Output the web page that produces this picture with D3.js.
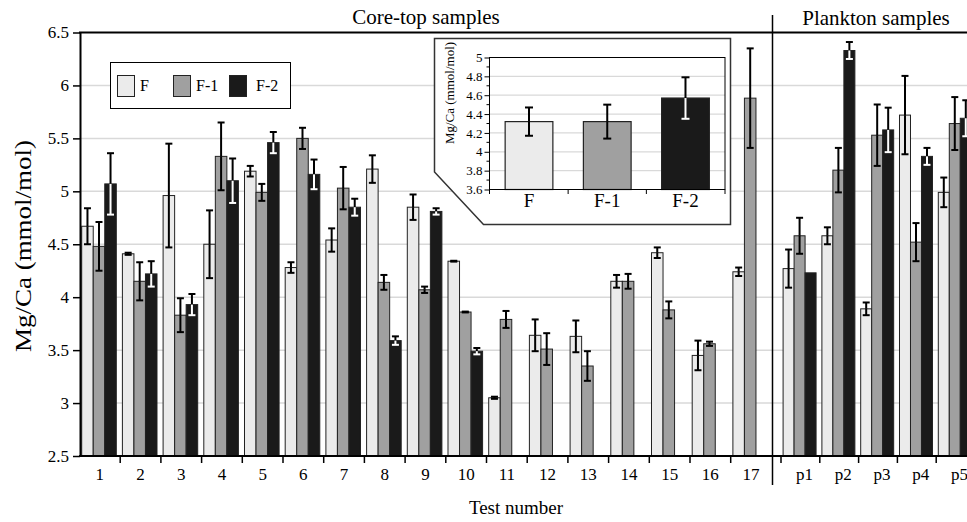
<!DOCTYPE html>
<html>
<head>
<meta charset="utf-8">
<script src="https://cdn.jsdelivr.net/npm/d3@7"></script>
<style>
  body { margin: 0; background: #fff; }
  svg text { font-family: "Liberation Serif", "Times New Roman", serif; fill: #000; }
</style>
</head>
<body>
<div id="chart"></div>
<script>
// ---- data ----
var series = ["F", "F-1", "F-2"];
var coreCats = ["1", "2", "3", "4", "5", "6", "7", "8", "9", "10", "11", "12", "13", "14", "15", "16", "17"];
var plankCats = ["p1", "p2", "p3", "p4", "p5"];

var coreF = [4.67, 4.41, 4.96, 4.50, 5.19, 4.28, 4.54, 5.21, 4.85, 4.34, 3.05, 3.64, 3.63, 4.15, 4.42, 3.45, 4.24];
var coreFErr = [0.17, 0.01, 0.49, 0.32, 0.05, 0.05, 0.11, 0.13, 0.12, 0.004, 0.01, 0.15, 0.15, 0.06, 0.05, 0.14, 0.04];
var coreF1 = [4.48, 4.15, 3.83, 5.33, 4.99, 5.50, 5.03, 4.14, 4.07, 3.86, 3.79, 3.51, 3.35, 4.15, 3.88, 3.56, 5.88];
var coreF1Err = [0.23, 0.18, 0.16, 0.32, 0.08, 0.10, 0.20, 0.07, 0.03, 0.004, 0.08, 0.15, 0.14, 0.07, 0.08, 0.02, 0.47];
var coreF2 = [5.07, 4.22, 3.93, 5.10, 5.46, 5.16, 4.85, 3.59, 4.81, 3.49, null, null, null, null, null, null, null];
var coreF2Err = [0.29, 0.12, 0.10, 0.21, 0.10, 0.14, 0.08, 0.04, 0.03, 0.03, null, null, null, null, null, null, null];

var plankF = [4.27, 4.58, 3.89, 5.72, 4.99];
var plankFErr = [0.18, 0.08, 0.06, 0.37, 0.14];
var plankF1 = [4.58, 5.20, 5.53, 4.52, 5.64];
var plankF1Err = [0.17, 0.21, 0.29, 0.18, 0.25];
var plankF2 = [4.23, 6.33, 5.58, 5.33, 5.69];
var plankF2Err = [null, 0.08, 0.21, 0.08, 0.17];

// inset: mean of all tests
var meanVals = [4.32, 4.32, 4.57];
var meanErr = [0.15, 0.18, 0.22];

var yTicks = [2.5, 3, 3.5, 4, 4.5, 5, 5.5, 6, 6.5];
var insetTicks = [3.6, 3.8, 4, 4.2, 4.4, 4.6, 4.8, 5];

// ---- layout ----
var svgWidth = 967;
var svgHeight = 522;
var colors = { "F": "#ebebeb", "F-1": "#a0a0a0", "F-2": "#1a1a1a" };
var gridColor = "#d9d9d9";
var capHalf = 3.5;

var svg = d3.select("#chart")
    .append("svg")
    .attr("width", svgWidth)
    .attr("height", svgHeight);

var yScale = d3.scaleLinear().domain([2.5, 6.5]).range([456, 32.5]);
var xCore = d3.scaleBand().domain(coreCats).range([79.5, 771.4]);
var xPlank = d3.scaleBand().domain(plankCats).range([781, 975]);

// build a flat table of bars from the named arrays
function makeRows(cats, vals, errs) {
    var rows = [];
    cats.forEach(function(c, i) {
        series.forEach(function(s, j) {
            if (vals[j][i] != null) {
                rows.push({ cat: c, series: s, value: vals[j][i], err: errs[j][i] });
            }
        });
    });
    return rows;
}
var coreRows = makeRows(coreCats, [coreF, coreF1, coreF2], [coreFErr, coreF1Err, coreF2Err]);
var plankRows = makeRows(plankCats, [plankF, plankF1, plankF2], [plankFErr, plankF1Err, plankF2Err]);

// gridlines
svg.append("g").selectAll("line")
    .data(yTicks.filter(d => d > 2.5 && d < 6.5))
    .enter().append("line")
    .attr("x1", 80).attr("x2", svgWidth)
    .attr("y1", d => yScale(d)).attr("y2", d => yScale(d))
    .attr("stroke", gridColor).attr("stroke-width", 1.5);

// draws grouped bars + error bars for one block of categories
function drawBlock(rows, xBand) {
    var bw = xBand.bandwidth();
    var xSub = d3.scaleBand().domain(series).range([bw * 0.054, bw * 0.054 + bw * 0.85]);
    var g = svg.append("g");

    g.selectAll("rect")
        .data(rows)
        .enter().append("rect")
        .attr("x", d => xBand(d.cat) + xSub(d.series))
        .attr("y", d => yScale(d.value))
        .attr("width", xSub.bandwidth())
        .attr("height", d => yScale(2.5) - yScale(d.value))
        .attr("fill", d => colors[d.series])
        .attr("stroke", "#222")
        .attr("stroke-width", 1);

    var eg = g.selectAll(".err")
        .data(rows.filter(d => d.err != null))
        .enter().append("g")
        .attr("class", "err")
        .attr("transform", d => `translate(${xBand(d.cat) + xSub(d.series) + xSub.bandwidth() / 2},0)`);

    // upper half is always black, lower half white when inside a dark bar
    eg.append("line")
        .attr("x1", 0).attr("x2", 0)
        .attr("y1", d => yScale(d.value)).attr("y2", d => yScale(d.value + d.err))
        .attr("stroke", "#000").attr("stroke-width", 2);
    eg.append("line")
        .attr("x1", -capHalf).attr("x2", capHalf)
        .attr("y1", d => yScale(d.value + d.err)).attr("y2", d => yScale(d.value + d.err))
        .attr("stroke", "#000").attr("stroke-width", 2);
    eg.append("line")
        .attr("x1", 0).attr("x2", 0)
        .attr("y1", d => yScale(d.value)).attr("y2", d => yScale(d.value - d.err))
        .attr("stroke", d => d.series === "F-2" ? "#fff" : "#000").attr("stroke-width", 2);
    eg.append("line")
        .attr("x1", -capHalf).attr("x2", capHalf)
        .attr("y1", d => yScale(d.value - d.err)).attr("y2", d => yScale(d.value - d.err))
        .attr("stroke", d => d.series === "F-2" ? "#fff" : "#000").attr("stroke-width", 2);
}
drawBlock(coreRows, xCore);
drawBlock(plankRows, xPlank);

// left axis
var leftAxis = d3.axisLeft(yScale).tickValues(yTicks).tickFormat(d => d).tickSize(7).tickSizeOuter(0);
var yAxisG = svg.append("g")
    .attr("transform", "translate(80,0)")
    .call(leftAxis);
yAxisG.select(".domain").attr("stroke-width", 2);
yAxisG.selectAll(".tick line").attr("stroke-width", 1.5);
yAxisG.selectAll(".tick text")
    .attr("x", -11)
    .style("font-size", "17px")
    .style("font-family", "'Liberation Serif', 'Times New Roman', serif");

// bottom axis line + tick marks between categories
svg.append("line")
    .attr("x1", 79).attr("x2", svgWidth)
    .attr("y1", yScale(2.5)).attr("y2", yScale(2.5))
    .attr("stroke", "#000").attr("stroke-width", 2);

var tickXs = coreCats.slice(1).map(c => xCore(c)).concat(plankCats.map(c => xPlank(c)));
svg.append("g").selectAll("line")
    .data(tickXs)
    .enter().append("line")
    .attr("x1", d => d).attr("x2", d => d)
    .attr("y1", yScale(2.5)).attr("y2", yScale(2.5) + 7)
    .attr("stroke", "#000").attr("stroke-width", 1.5);

svg.append("g").selectAll("text")
    .data(coreCats)
    .enter().append("text")
    .attr("x", d => xCore(d) + xCore.bandwidth() / 2)
    .attr("y", 480)
    .attr("text-anchor", "middle")
    .style("font-size", "17px")
    .text(d => d);

svg.append("g").selectAll("text")
    .data(plankCats)
    .enter().append("text")
    .attr("x", d => xPlank(d) + xPlank.bandwidth() / 2 + 4)
    .attr("y", 480)
    .attr("text-anchor", "middle")
    .style("font-size", "17px")
    .text(d => d);

// top border and section divider
svg.append("line")
    .attr("x1", 79).attr("x2", svgWidth)
    .attr("y1", 32.5).attr("y2", 32.5)
    .attr("stroke", "#000").attr("stroke-width", 2);
svg.append("line")
    .attr("x1", 772.5).attr("x2", 772.5)
    .attr("y1", 15).attr("y2", 485)
    .attr("stroke", "#000").attr("stroke-width", 1.5);

svg.append("text")
    .attr("x", 426).attr("y", 24)
    .attr("text-anchor", "middle")
    .style("font-size", "21px")
    .text("Core-top samples");
svg.append("text")
    .attr("x", 876).attr("y", 25)
    .attr("text-anchor", "middle")
    .style("font-size", "21px")
    .text("Plankton samples");

// axis titles
svg.append("text")
    .attr("transform", "translate(31,246) rotate(-90)")
    .attr("text-anchor", "middle")
    .attr("textLength", 212)
    .attr("lengthAdjust", "spacingAndGlyphs")
    .style("font-size", "23px")
    .text("Mg/Ca (mmol/mol)");
svg.append("text")
    .attr("x", 516).attr("y", 514)
    .attr("text-anchor", "middle")
    .style("font-size", "19px")
    .text("Test number");

// legend
var legendX = [117, 173, 229];
var legendTextX = [140, 196, 256];
var legend = svg.append("g");
legend.append("rect")
    .attr("x", 110.5).attr("y", 62.5)
    .attr("width", 180).attr("height", 46)
    .attr("fill", "#fff").attr("stroke", "#000").attr("stroke-width", 1);
legend.selectAll(".sw")
    .data(series)
    .enter().append("rect")
    .attr("x", (d, i) => legendX[i] + 0.5).attr("y", 75.5)
    .attr("width", 17).attr("height", 21)
    .attr("fill", d => colors[d]).attr("stroke", "#222").attr("stroke-width", 1);
legend.selectAll(".lt")
    .data(series)
    .enter().append("text")
    .attr("x", (d, i) => legendTextX[i]).attr("y", 91)
    .style("font-size", "16px")
    .text(d => d);

// ---- inset chart ----
var inset = svg.append("g");
inset.append("polygon")
    .attr("points", "434.5,38.5 730.5,38.5 730.5,224.5 483.5,224.5 434.5,172")
    .attr("fill", "#fff").attr("stroke", "#333").attr("stroke-width", 1.5);

var yIn = d3.scaleLinear().domain([3.6, 5]).range([189.5, 57.5]);
var xIn = d3.scaleBand().domain(series).range([489.5, 725]).paddingInner(0.39).paddingOuter(0.2);

inset.append("g").selectAll("line")
    .data(insetTicks.filter(d => d > 3.6 && d < 5))
    .enter().append("line")
    .attr("x1", 489.5).attr("x2", 725)
    .attr("y1", d => yIn(d)).attr("y2", d => yIn(d))
    .attr("stroke", gridColor).attr("stroke-width", 1.2);

inset.append("g").selectAll("rect")
    .data(series)
    .enter().append("rect")
    .attr("x", d => xIn(d))
    .attr("y", (d, i) => yIn(meanVals[i]))
    .attr("width", xIn.bandwidth())
    .attr("height", (d, i) => yIn(3.6) - yIn(meanVals[i]))
    .attr("fill", d => colors[d]).attr("stroke", "#222").attr("stroke-width", 1.2);

var ieg = inset.selectAll(".ierr")
    .data(series)
    .enter().append("g")
    .attr("transform", d => `translate(${xIn(d) + xIn.bandwidth() / 2},0)`);
ieg.append("line")
    .attr("y1", (d, i) => yIn(meanVals[i])).attr("y2", (d, i) => yIn(meanVals[i] + meanErr[i]))
    .attr("stroke", "#000").attr("stroke-width", 2);
ieg.append("line")
    .attr("x1", -4).attr("x2", 4)
    .attr("y1", (d, i) => yIn(meanVals[i] + meanErr[i])).attr("y2", (d, i) => yIn(meanVals[i] + meanErr[i]))
    .attr("stroke", "#000").attr("stroke-width", 2);
ieg.append("line")
    .attr("y1", (d, i) => yIn(meanVals[i])).attr("y2", (d, i) => yIn(meanVals[i] - meanErr[i]))
    .attr("stroke", d => d === "F-2" ? "#fff" : "#000").attr("stroke-width", 2);
ieg.append("line")
    .attr("x1", -4).attr("x2", 4)
    .attr("y1", (d, i) => yIn(meanVals[i] - meanErr[i])).attr("y2", (d, i) => yIn(meanVals[i] - meanErr[i]))
    .attr("stroke", d => d === "F-2" ? "#fff" : "#000").attr("stroke-width", 2);

// inset frame
inset.append("rect")
    .attr("x", 489.5).attr("y", 57.5)
    .attr("width", 235.5).attr("height", 132)
    .attr("fill", "none").attr("stroke", "#000").attr("stroke-width", 1);

// inset y axis: major + minor ticks
var insetAxis = d3.axisLeft(yIn).tickValues(insetTicks).tickFormat(d => d).tickSize(5).tickSizeOuter(0);
var iy = inset.append("g").attr("transform", "translate(489.5,0)").call(insetAxis);
iy.select(".domain").remove();
iy.selectAll(".tick text")
    .attr("x", -7)
    .style("font-size", "13px")
    .style("font-family", "'Liberation Serif', 'Times New Roman', serif");
inset.append("g").selectAll("line")
    .data(d3.range(3.7, 5, 0.2))
    .enter().append("line")
    .attr("x1", 486.5).attr("x2", 489.5)
    .attr("y1", d => yIn(d)).attr("y2", d => yIn(d))
    .attr("stroke", "#000");

// inset x ticks and labels
inset.append("g").selectAll("line")
    .data([489.5].concat(series.slice(1).map(s => xIn(s) - xIn.step() * xIn.paddingInner() / 2)).concat([725]))
    .enter().append("line")
    .attr("x1", d => d).attr("x2", d => d)
    .attr("y1", 189.5).attr("y2", 194)
    .attr("stroke", "#000");
inset.append("g").selectAll("text")
    .data(series)
    .enter().append("text")
    .attr("x", d => xIn(d) + xIn.bandwidth() / 2)
    .attr("y", 207)
    .attr("text-anchor", "middle")
    .style("font-size", "19px")
    .text(d => d);

inset.append("text")
    .attr("transform", "translate(454,93) rotate(-90)")
    .attr("text-anchor", "middle")
    .style("font-size", "13px")
    .text("Mg/Ca (mmol/mol)");
</script>
</body>
</html>
